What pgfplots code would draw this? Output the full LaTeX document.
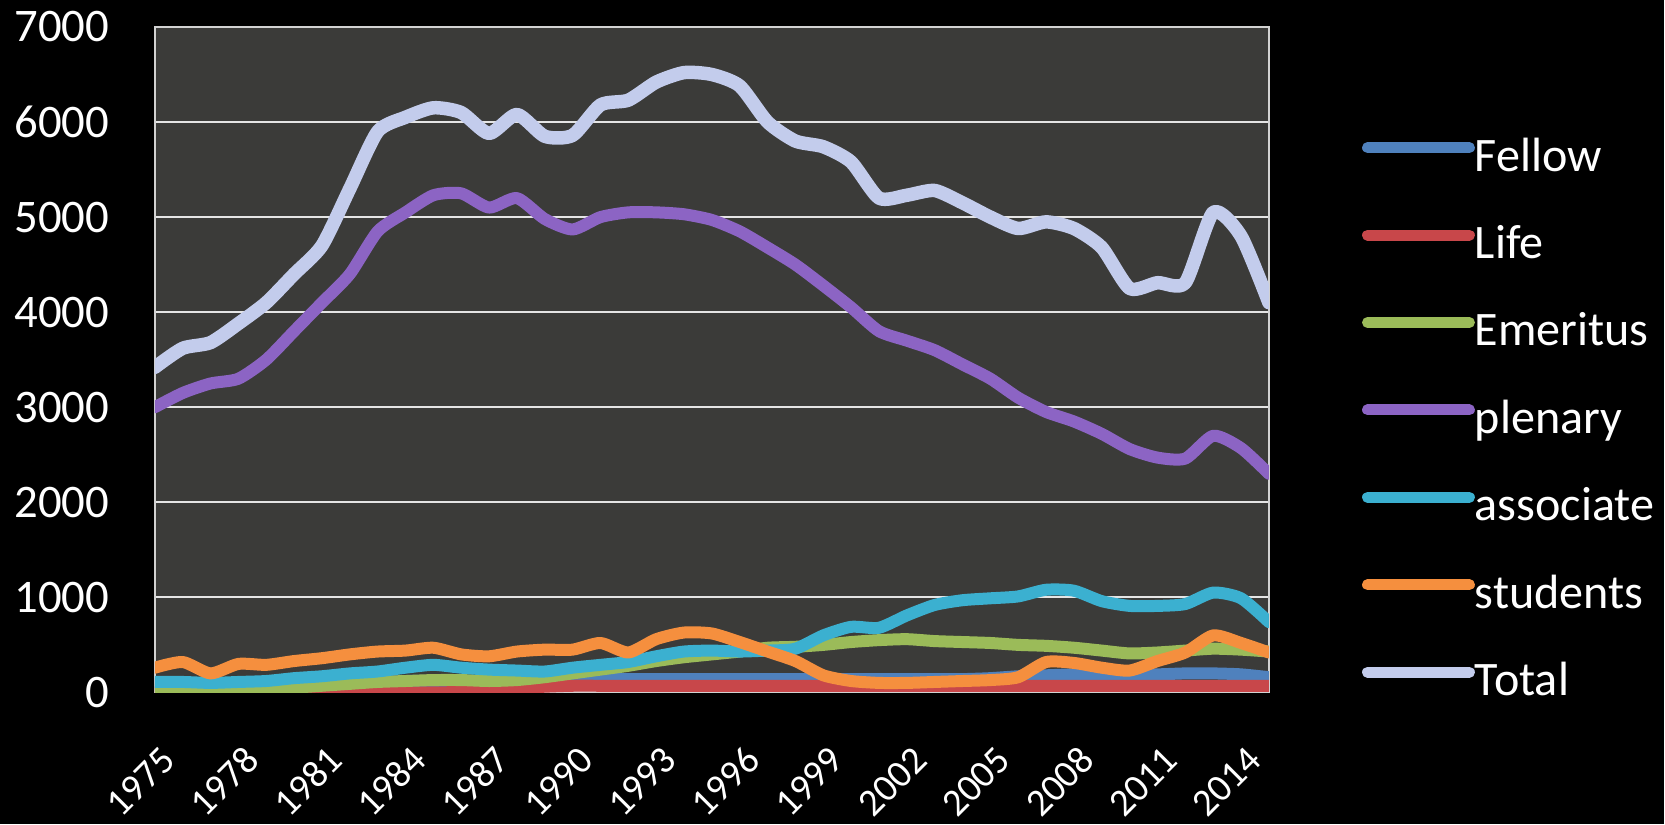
\documentclass[border=0pt]{standalone}
\usepackage{fontspec}
\setmainfont{Carlito}
\usepackage{pgfplots}
\pgfplotsset{compat=1.18}
\usepackage{pgfplotstable}

\definecolor{plotbg}{HTML}{3B3B39}
\definecolor{cFellow}{HTML}{4F81BD}
\definecolor{cLife}{HTML}{C8474A}
\definecolor{cEmeritus}{HTML}{9BBB59}
\definecolor{cPlenary}{HTML}{8C64C4}
\definecolor{cAssociate}{HTML}{3BB0D0}
\definecolor{cStudents}{HTML}{F58F3E}
\definecolor{cTotal}{HTML}{C3CCEC}

% membership counts per year
\pgfplotstableread{
year fellow life emeritus plenary associate students total
1975 90  0  30  3000 110  260 3420
1976 80  0  30  3150 110  320 3620
1977 80  0  30  3250 100  200 3680
1978 90  0  40  3300 110  300 3880
1979 90  0  40  3500 120  290 4100
1980 100 0  50  3800 150  330 4400
1981 100 0  70  4100 170  360 4700
1982 110 0  90  4400 200  400 5300
1983 110 0  110 4850 220  430 5900
1984 120 0  120 5050 260  440 6050
1985 120 0  130 5230 290  470 6150
1986 120 5  130 5250 260  400 6100
1987 120 20 120 5100 240  380 5880
1988 120 40 130 5200 230  430 6080
1989 130 60 160 4980 220  450 5850
1990 130 70 200 4870 260  450 5860
1991 140 70 240 5000 290  520 6180
1992 140 70 280 5050 320  420 6230
1993 140 70 330 5050 380  560 6420
1994 140 70 370 5030 430  630 6520
1995 140 70 400 4970 440  620 6500
1996 140 70 430 4850 430  530 6380
1997 140 70 470 4680 440  430 6000
1998 140 70 480 4500 460  330 5800
1999 140 70 500 4280 600  180 5740
2000 140 70 530 4050 690  120 5580
2001 140 70 550 3800 680  100 5200
2002 140 70 560 3700 810  100 5230
2003 140 70 540 3600 920  110 5280
2004 140 70 530 3450 970  120 5150
2005 150 70 520 3300 990  130 5000
2006 170 70 500 3100 1010 160 4880
2007 180 70 490 2950 1080 320 4950
2008 190 70 470 2850 1070 310 4880
2009 190 70 440 2720 960  260 4680
2010 190 70 410 2560 910  230 4250
2011 190 70 420 2470 910  330 4310
2012 200 70 440 2460 930  420 4310
2013 200 70 460 2700 1050 600 5050
2014 190 70 450 2570 990  520 4800
2015 160 70 430 2300 740  420 4100
}\members

\begin{document}
\begin{tikzpicture}
\fill[black] (0,0) rectangle (166.5mm,82.5mm);
\begin{axis}[
  at={(15.5mm,13.2mm)}, anchor=south west,
  scale only axis, width=111.5mm, height=66.6mm,
  xmin=1975, xmax=2015, ymin=0, ymax=7000,
  xtick={1975,1978,...,2014},
  ytick={0,1000,...,7000},
  major tick length=0pt,
  ymajorgrids,
  grid style={draw=white!80!gray, line width=0.6pt},
  axis line style={draw=white!65!gray, line width=0.6pt},
  axis background/.style={fill=plotbg},
  /pgf/number format/assume math mode=true,
  /pgf/number format/1000 sep={},
  tick label style={text=white},
  yticklabel style={font=\fontsize{13.3}{14}\selectfont, anchor=east, inner sep=0pt, xshift=-4.5mm},
  xticklabel style={font=\fontsize{11}{12}\selectfont, anchor=east, inner sep=0pt,
    xshift=1.4mm, yshift=-6.1mm, rotate=45},
  legend style={at={(1.0735,0.405)}, anchor=west, draw=none, fill=none,
    text=white, font=\fontsize{13.7}{14}\selectfont,
    row sep=4.65mm, column sep=0mm,
    nodes={inner sep=0pt, text height=3.1mm, text depth=1mm}},
  legend cell align=left,
  legend image code/.code={\draw[#1, line width=1.1mm, line cap=round] (0mm,1.3mm) -- (10.2mm,1.3mm);},
  every axis plot/.append style={line width=1.2mm, smooth, tension=0.4,
    line join=round, line cap=round, no marks},
]
\addplot[cFellow]    table[x=year, y=fellow]    {\members};
\addplot[cLife]      table[x=year, y=life]      {\members};
\addplot[cEmeritus]  table[x=year, y=emeritus]  {\members};
\addplot[cPlenary]   table[x=year, y=plenary]   {\members};
\addplot[cAssociate] table[x=year, y=associate] {\members};
\addplot[cStudents]  table[x=year, y=students]  {\members};
\addplot[cTotal, line width=1.35mm] table[x=year, y=total] {\members};
\legend{Fellow,Life,Emeritus,plenary,associate,students,Total}
\end{axis}
\end{tikzpicture}
\end{document}
